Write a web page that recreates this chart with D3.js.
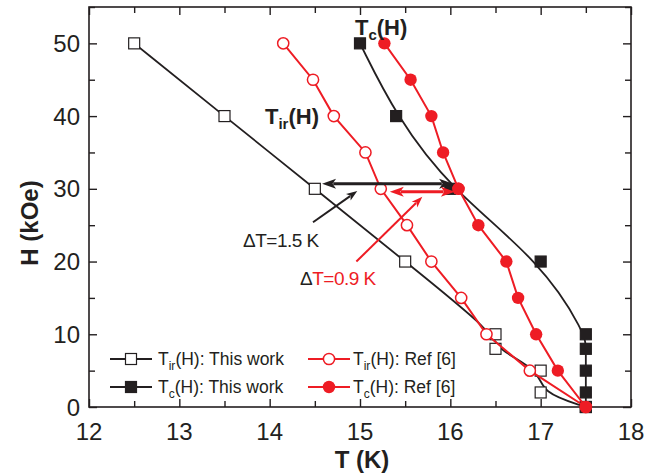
<!DOCTYPE html>
<html><head><meta charset="utf-8">
<script src="https://cdn.jsdelivr.net/npm/d3@7"></script>
<style>body{margin:0;background:#fff}svg{display:block;font-family:"Liberation Sans",Arial,Helvetica,sans-serif}</style>
</head><body><svg id="c" width="647" height="473"></svg>
<script>
// ---- data ----
const fieldThis = [50, 40, 30, 20, 10, 8, 5, 2, 0];
const tirThis = [12.5, 13.5, 14.5, 15.5, 16.5, 16.5, 17.0, 17.0, 17.5];
const tcThis = [15.0, 15.4, 16.0, 17.0, 17.5, 17.5, 17.5, 17.5, 17.5];
const fieldRef = [50, 45, 40, 35, 30, 25, 20, 15, 10, 5, 0];
const tirRef = [14.15, 14.48, 14.71, 15.06, 15.23, 15.52, 15.79, 16.12, 16.40, 16.88, 17.5];
const tcRef = [15.27, 15.56, 15.79, 15.92, 16.09, 16.31, 16.62, 16.75, 16.95, 17.19, 17.5];
const xTicks = [12, 13, 14, 15, 16, 17, 18];
const yTicks = [0, 10, 20, 30, 40, 50];
const legendLabels = [["ir", "(H): This work"], ["c", "(H): This work"], ["ir", "(H): Ref [6]"], ["c", "(H): Ref [6]"]];

const svg = d3.select("#c");
const x = d3.scaleLinear().domain([12, 18]).range([89, 631]);
const y = d3.scaleLinear().domain([0, 55]).range([407, 7]);
const RED = "#ee1c24", BLK = "#231f20";

// axes frame
const g = svg.append("g");
const axB = d3.axisBottom(x).tickValues(d3.range(12, 18.01, 0.5)).tickSize(0).tickFormat("");
// draw ticks manually via axis generators
function ticksX(sel, yPos, dir) {
  const ax = (dir > 0 ? d3.axisBottom(x) : d3.axisTop(x)).tickValues(d3.range(12, 18.01, 0.5))
    .tickSizeInner(-8).tickSizeOuter(0).tickFormat("");
  sel.append("g").attr("transform", `translate(0,${yPos})`).call(ax)
    .call(s => s.selectAll(".tick line").attr("y2", d => (Number.isInteger(d) ? 8 : 6) * (dir > 0 ? -1 : 1)).attr("stroke", BLK).attr("stroke-width", 1.4))
    .call(s => s.select(".domain").remove());
}
function ticksY(sel, xPos, dir) {
  const ax = (dir > 0 ? d3.axisLeft(y) : d3.axisRight(y)).tickValues(d3.range(0, 55.01, 5))
    .tickSizeOuter(0).tickFormat("");
  sel.append("g").attr("transform", `translate(${xPos},0)`).call(ax)
    .call(s => s.selectAll(".tick line").attr("x2", d => (d % 10 === 0 ? 8 : 6) * (dir > 0 ? 1 : -1)).attr("stroke", BLK).attr("stroke-width", 1.4))
    .call(s => s.select(".domain").remove());
}
ticksX(g, 407, 1); ticksX(g, 7, -1); ticksY(g, 89, 1); ticksY(g, 631, -1);
g.append("rect").attr("x", 89).attr("y", 7).attr("width", 542).attr("height", 400)
  .attr("fill", "none").attr("stroke", BLK).attr("stroke-width", 1.6);

// tick labels
g.selectAll(".xl").data(xTicks).join("text").attr("x", d => x(d)).attr("y", 440)
  .attr("text-anchor", "middle").attr("font-size", 24).attr("fill", BLK).text(d => d);
g.selectAll(".yl").data(yTicks).join("text").attr("x", 80).attr("y", d => y(d) + 8.5)
  .attr("text-anchor", "end").attr("font-size", 24).attr("fill", BLK).text(d => d);
// axis titles
svg.append("text").attr("x", 362).attr("y", 468).attr("text-anchor", "middle")
  .attr("font-size", 24).attr("font-weight", "bold").attr("fill", BLK).text("T (K)");
svg.append("text").attr("transform", "translate(38,223) rotate(-90)").attr("text-anchor", "middle")
  .attr("font-size", 24).attr("font-weight", "bold").attr("fill", BLK).text("H (kOe)");

// lines
const toPts = (ts, hs) => ts.map((t, i) => [t, hs[i]]);
const smooth = d3.line().x(d => x(d[0])).y(d => y(d[1])).curve(d3.curveBasis);
const straight = d3.line().x(d => x(d[0])).y(d => y(d[1]));
const pTirThis = toPts(tirThis, fieldThis), pTcThis = toPts(tcThis, fieldThis);
const pTirRef = toPts(tirRef, fieldRef), pTcRef = toPts(tcRef, fieldRef);

svg.append("path").attr("d", smooth(pTirThis)).attr("fill", "none").attr("stroke", BLK).attr("stroke-width", 1.8);
svg.append("path").attr("d", smooth(pTcThis)).attr("fill", "none").attr("stroke", BLK).attr("stroke-width", 1.8);

function squares(pts, fill) {
  svg.append("g").selectAll("rect").data(pts).join("rect")
    .attr("x", d => x(d[0]) - 5.5).attr("y", d => y(d[1]) - 5.5).attr("width", 11).attr("height", 11)
    .attr("fill", fill).attr("stroke", BLK).attr("stroke-width", 1.2);
}
squares(pTirThis, "#fff");
squares(pTcThis, BLK);

svg.append("path").attr("d", straight(pTirRef)).attr("fill", "none").attr("stroke", RED).attr("stroke-width", 2);
svg.append("path").attr("d", straight(pTcRef)).attr("fill", "none").attr("stroke", RED).attr("stroke-width", 2);
svg.append("g").selectAll("circle").data(pTirRef).join("circle")
  .attr("cx", d => x(d[0])).attr("cy", d => y(d[1])).attr("r", 5.6).attr("fill", "#fff").attr("stroke", RED).attr("stroke-width", 1.5);
svg.append("g").selectAll("circle").data(pTcRef).join("circle")
  .attr("cx", d => x(d[0])).attr("cy", d => y(d[1])).attr("r", 6.2).attr("fill", RED);

// arrows
function arrow(t0, h0, t1, h1, color, w, hl, hw, both) {
  const x0 = x(t0), y0 = y(h0), x1 = x(t1), y1 = y(h1);
  const a = Math.atan2(y1 - y0, x1 - x0);
  const head = (px, py, ang) => {
    const bx = px - hl * Math.cos(ang), by = py - hl * Math.sin(ang);
    const nx = -Math.sin(ang) * hw / 2, ny = Math.cos(ang) * hw / 2;
    return `M${px},${py}L${bx + nx},${by + ny}L${bx + hl * 0.25 * Math.cos(ang)},${by + hl * 0.25 * Math.sin(ang)}L${bx - nx},${by - ny}Z`;
  };
  const sx = both ? x0 + (hl * 0.8) * Math.cos(a) : x0, sy = both ? y0 + (hl * 0.8) * Math.sin(a) : y0;
  svg.append("line").attr("x1", sx).attr("y1", sy).attr("x2", x1 - hl * 0.8 * Math.cos(a)).attr("y2", y1 - hl * 0.8 * Math.sin(a))
    .attr("stroke", color).attr("stroke-width", w);
  svg.append("path").attr("d", head(x1, y1, a)).attr("fill", color);
  if (both) svg.append("path").attr("d", head(x0, y0, a + Math.PI)).attr("fill", color);
}
arrow(14.58, 30.7, 16.03, 30.7, BLK, 3, 14, 10, true);
arrow(15.33, 29.6, 16.05, 29.6, RED, 3, 14, 10, true);
arrow(14.48, 25.4, 14.97, 29.7, BLK, 2, 11, 8, false);
arrow(14.96, 20.0, 15.69, 28.9, RED, 2, 11, 8, false);

// re-draw point markers at H=30 on top of arrows
svg.append("circle").attr("cx", x(tcRef[4])).attr("cy", y(fieldRef[4])).attr("r", 6.2).attr("fill", RED);

// annotations
svg.append("text").attr("x", 243).attr("y", 247).attr("font-size", 19).attr("fill", BLK)
  .attr("letter-spacing", -0.5).text("ΔT=1.5 K");
const t2 = svg.append("text").attr("x", 300).attr("y", 285).attr("font-size", 19).attr("letter-spacing", -0.5);
t2.append("tspan").attr("fill", BLK).text("Δ");
t2.append("tspan").attr("fill", RED).text("T=0.9 K");

function subLabel(xp, yp, sub, size) {
  const t = svg.append("text").attr("x", xp).attr("y", yp).attr("font-size", size).attr("font-weight", "bold").attr("fill", BLK);
  t.append("tspan").text("T");
  t.append("tspan").attr("font-size", size * 0.68).attr("dy", 5).text(sub);
  t.append("tspan").attr("dy", -5).text("(H)");
}
subLabel(355, 35, "c", 22);
subLabel(265, 124, "ir", 22);

// legend
const legRows = [359, 387];
const legend = svg.append("g").attr("font-size", 17.5).attr("fill", BLK);
[[110, 158, BLK], [308, 353, RED]].forEach((col, ci) => {
  legRows.forEach((ry, ri) => {
    const idx = ci * 2 + ri;
    legend.append("line").attr("x1", col[0]).attr("x2", col[0] + 42).attr("y1", ry).attr("y2", ry)
      .attr("stroke", col[2]).attr("stroke-width", 2);
    const cx = col[0] + 21;
    if (ci === 0) {
      legend.append("rect").attr("x", cx - 5.5).attr("y", ry - 5.5).attr("width", 11).attr("height", 11)
        .attr("fill", ri === 0 ? "#fff" : BLK).attr("stroke", BLK).attr("stroke-width", 1.2);
    } else {
      legend.append("circle").attr("cx", cx).attr("cy", ry).attr("r", ri === 0 ? 5.6 : 6.2)
        .attr("fill", ri === 0 ? "#fff" : RED).attr("stroke", RED).attr("stroke-width", ri === 0 ? 1.5 : 0);
    }
    const t = legend.append("text").attr("x", col[1]).attr("y", ry + 6);
    t.append("tspan").text("T");
    t.append("tspan").attr("font-size", 12).attr("dy", 5).text(legendLabels[idx][0]);
    t.append("tspan").attr("dy", -5).text(legendLabels[idx][1]);
  });
});
</script></body></html>
